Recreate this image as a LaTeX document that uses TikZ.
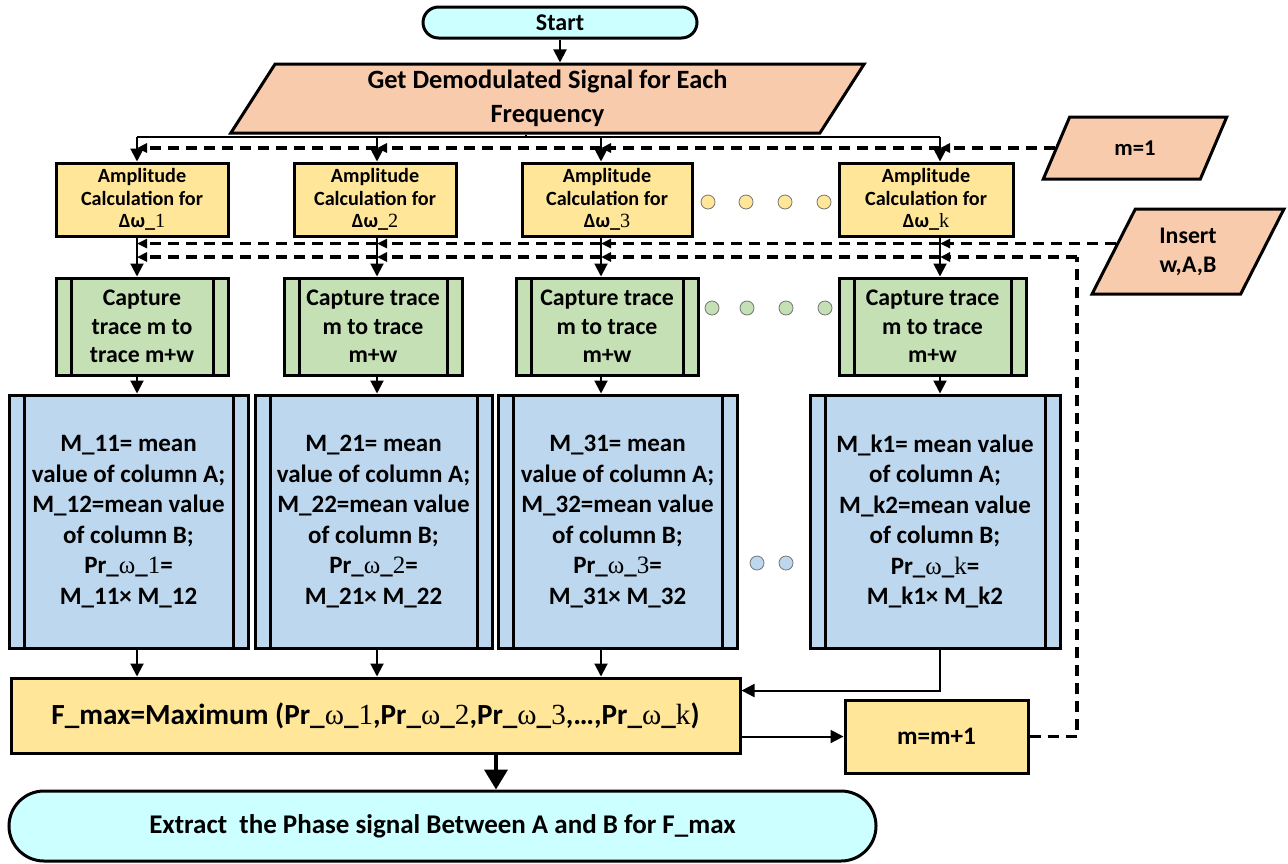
\documentclass[tikz,border=0pt]{standalone}
\usepackage{fontspec}
\setmainfont{Carlito}
\newfontfamily\wfont{Liberation Serif}
\usepackage{tikz}
\usetikzlibrary{arrows.meta,shapes.geometric,calc}
\definecolor{startfill}{RGB}{204,255,255}
\definecolor{iofill}{RGB}{248,203,173}
\definecolor{amplfill}{RGB}{255,230,153}
\definecolor{capfill}{RGB}{197,224,180}
\definecolor{calcfill}{RGB}{189,215,238}
\newcommand{\wsub}[1]{{\wfont\mdseries #1}}
\newcommand{\dw}[1]{Δω\_\wsub{#1}}
\newcommand{\prw}[1]{Pr\_\wsub{ω}\_\wsub{#1}}
\tikzset{
    %Define standard arrow tip
    >={Triangle[length=6.5pt,width=6.5pt]},
    %Define style for boxes
    terminal/.style={
           rectangle,
           draw=black, line width=1.5pt,
           fill=startfill,
           inner sep=1pt,
           align=center},
    io/.style={
           trapezium,
           trapezium left angle=64,
           trapezium right angle=116,
           trapezium stretches=true,
           draw=black, line width=1.5pt,
           fill=iofill,
           inner sep=1pt,
           align=center},
    sides/.style={
           path picture={
             \draw[line width=1.5pt]
               ([xshift=7.5pt]path picture bounding box.north west) -- ([xshift=7.5pt]path picture bounding box.south west)
               ([xshift=-7.5pt]path picture bounding box.north east) -- ([xshift=-7.5pt]path picture bounding box.south east);}},
    ampl/.style={
           rectangle,
           draw=black, line width=1.5pt,
           fill=amplfill,
           minimum height=36.5pt,
           inner sep=1pt,
           font=\bfseries\fontsize{10.1}{11.25}\selectfont,
           align=center},
    capture/.style={
           rectangle, sides,
           draw=black, line width=1.5pt,
           fill=capfill,
           minimum height=48.5pt,
           inner sep=1pt,
           font=\bfseries\fontsize{11.9}{14.3}\selectfont,
           align=center},
    calcbox/.style={
           rectangle, sides,
           draw=black, line width=1.5pt,
           fill=calcfill,
           minimum height=126.5pt,
           inner sep=1pt,
           font=\bfseries\fontsize{12.5}{15.25}\selectfont,
           align=center},
    % Define arrow style
    feedback/.style={
           line width=1.6pt,
           dash pattern=on 5.5pt off 3.5pt,
           >={Triangle[length=5pt,width=4.5pt]}},
    dotline/.style={
           draw=black!55, line width=0.4pt}
}
\begin{document}
\begin{tikzpicture}[x=1pt,y=-1pt,line width=1pt]
\useasboundingbox (0,0) rectangle (644,431.5);
 %nodes
\node[terminal, rounded corners=7.75pt, minimum width=137pt, minimum height=15.5pt,
  font=\bfseries\fontsize{12}{13}\selectfont] (start) at (280,11.25) {Start};
\node[io, minimum width=317.5pt, minimum height=34.5pt,
  font=\bfseries\fontsize{13.2}{17}\selectfont] (demod) at (273.75,49.25) {Get Demodulated Signal for Each\\Frequency};
\node[io, minimum width=92pt, minimum height=31pt,
  font=\bfseries\fontsize{11.3}{13}\selectfont] (m1) at (567.5,74) {m=1};
\node[io, minimum width=96pt, minimum height=42.5pt,
  font=\bfseries\fontsize{11.9}{14.5}\selectfont] (ins) at (594,125.75) {Insert\\w,A,B};

\node[ampl, minimum width=86pt] (a1) at (71,99.75) {Amplitude\\Calculation for\\\dw{1}};
\node[ampl, minimum width=81pt] (a2) at (187.5,99.75) {Amplitude\\Calculation for\\\dw{2}};
\node[ampl, minimum width=85pt] (a3) at (303.5,99.75) {Amplitude\\Calculation for\\\dw{3}};
\node[ampl, minimum width=87pt] (ak) at (463,99.75) {Amplitude\\Calculation for\\\dw{k}};

\node[capture, minimum width=86pt] (c1) at (71,163.25) {Capture\\trace m to\\trace m+w};
\node[capture, minimum width=89pt] (c2) at (186.5,163.25) {Capture trace\\m to trace\\m+w};
\node[capture, minimum width=91pt] (c3) at (303.5,163.25) {Capture trace\\m to trace\\m+w};
\node[capture, minimum width=93.5pt] (ck) at (466.25,163.25) {Capture trace\\m to trace\\m+w};

\node[calcbox, minimum width=119.5pt] (b1) at (64.25,260.75)
  {M\_11= mean\\value of column A;\\M\_12=mean value\\of column B;\\\prw{1}=\\M\_11× M\_12};
\node[calcbox, minimum width=118.5pt] (b2) at (186.75,260.75)
  {M\_21= mean\\value of column A;\\M\_22=mean value\\of column B;\\\prw{2}=\\M\_21× M\_22};
\node[calcbox, minimum width=119.5pt] (b3) at (308.75,260.75)
  {M\_31= mean\\value of column A;\\M\_32=mean value\\of column B;\\\prw{3}=\\M\_31× M\_32};
\node[calcbox, minimum width=125pt] (bk) at (467.5,260.75)
  {M\_k1= mean value\\of column A;\\M\_k2=mean value\\of column B;\\\prw{k}=\\M\_k1× M\_k2};

\node[ampl, minimum width=364.5pt, minimum height=37.5pt,
  font=\bfseries\fontsize{14.6}{16}\selectfont] (fmax) at (187.75,357.75)
  {F\_max=Maximum (\prw{1},\prw{2},\prw{3},…,\prw{k})};
\node[ampl, minimum width=91.5pt, minimum height=36.5pt,
  font=\bfseries\fontsize{12.6}{14}\selectfont] (mp1) at (468.25,368.25) {m=m+1};
\node[terminal, rounded corners=17.5pt, minimum width=433.5pt, minimum height=35pt,
  font=\bfseries\fontsize{13.5}{15}\selectfont] (ext) at (221.25,413)
  {Extract\ \ the Phase signal Between A and B for F\_max};

 %dots
\foreach \x in {354,373,392.5,412}
  \draw[dotline, fill=amplfill] (\x,101) circle (3.5pt);
\foreach \x in {356,373.5,393,412.5}
  \draw[dotline, fill=capfill] (\x,154) circle (3.5pt);
\foreach \x in {378.5,393}
  \draw[dotline, fill=calcfill] (\x,281.5) circle (3.5pt);

 %edges
\coordinate (k1) at (68.5,68.5);
\coordinate (k2) at (188.5,68.5);
\coordinate (k3) at (300.5,68.5);
\coordinate (kk) at (470,68.5);
\coordinate (stem) at (263,68.5);
\coordinate (back) at (538.5,128.5);
\coordinate (xm) at (248,0);

\draw[->] (start.south) -- (start.south |- demod.north);
\draw (demod.south -| stem) -- (stem);
\draw (k1) -- (kk);
\foreach \k/\a in {k1/a1,k2/a2,k3/a3,kk/ak}
  \draw[->] (\k) -- (\k |- \a.north);
\foreach \k/\a/\c/\b in {k1/a1/c1/b1,k2/a2/c2/b2,k3/a3/c3/b3}{
  \draw[->] (\a.south -| \k) -- (\c.north -| \k);
  \draw[->] (\c.south -| \k) -- (\b.north -| \k);
  \draw[->] (\b.south -| \k) -- (fmax.north -| \k);
}
\draw[->] (ak.south -| kk) -- (ck.north -| kk);
\draw[->] (ck.south -| kk) -- (bk.north -| kk);
\draw[->] (bk.south -| kk) |- ($(fmax.north east)!0.18!(fmax.south east)$);
\draw[->] (fmax.east |- mp1.west) -- (mp1.west);
\draw[->, line width=2pt, >={Triangle[length=10pt,width=11.5pt]}] (fmax.south -| xm) -- (ext.north -| xm);

 %feedback lines
\coordinate (insB) at ($(ins.bottom left corner)!0.59!(ins.top left corner)$);
\draw[feedback,->] (m1.west) -- (m1.west -| kk);
\draw[feedback,->] (insB) -- (insB -| kk);
\draw[feedback] (mp1.east) -| (back);
\draw[feedback,->] (back) -- (back -| kk);
\foreach \p/\q in {kk/k3,k3/k2,k2/k1}{
  \draw[feedback,->] (m1.west -| \p) -- (m1.west -| \q);
  \draw[feedback,->] (insB -| \p) -- (insB -| \q);
  \draw[feedback,->] (back -| \p) -- (back -| \q);
}
\end{tikzpicture}
\end{document}
